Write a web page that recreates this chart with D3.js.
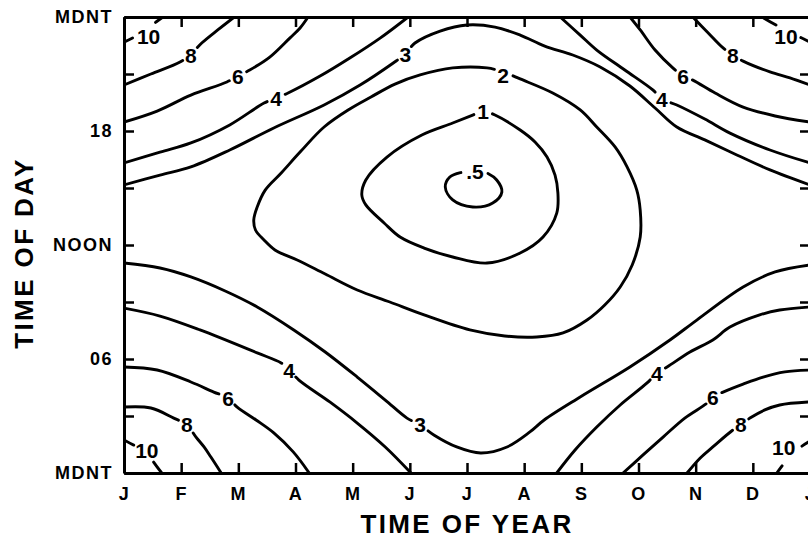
<!DOCTYPE html>
<html><head><meta charset="utf-8">
<script src="https://cdn.jsdelivr.net/npm/d3@7"></script>
<style>
html,body{margin:0;padding:0;background:#fff;overflow:hidden}
svg{display:block}
text{font-family:"Liberation Sans",Arial,sans-serif;font-weight:bold;fill:#000}
</style></head><body>
<svg id="chart" width="808" height="542"></svg>
<script>
// ---------- data (x = month, 0 = Jan 1 ... 12 = next Jan 1; y = hour of day) ----------
const months = ["J","F","M","A","M","J","J","A","S","O","N","D","J"];
const hourTicks = [0,3,6,9,12,15,18,21,24];
const hourLabels = {0:"MDNT",6:"06",12:"NOON",18:"18",24:"MDNT"};

// contour lines: [month, hour]
const c10TopLeft = [[0,22.68],[0.28,23.11],[0.49,23.58],[0.68,24]];
const c8TopLeft  = [[0,20.42],[0.47,21.0],[0.98,21.63],[1.17,22.05],[1.36,22.63],[1.64,23.32],[1.93,24]];
const c6TopLeft  = [[0,18.47],[0.58,19.05],[1.17,19.89],[1.80,20.58],[1.99,20.89],[2.20,21.21],[2.55,21.89],[2.90,22.89],[3.08,23.42],[3.22,24]];
const c4TopLeft  = [[0,16.32],[0.63,16.89],[1.17,17.37],[1.85,18.32],[2.45,19.47],[2.66,19.74],[2.87,20.0],[3.43,20.89],[3.95,21.84],[4.48,22.89],[4.97,24]];
const c3Top      = [[0,15.16],[0.63,15.68],[1.17,16.11],[1.85,17.0],[2.62,18.16],[3.50,19.37],[4.13,20.42],[4.71,21.58],[4.92,22.05],[5.09,22.63],[5.53,23.26],[6.0,23.58],[6.49,23.47],[6.93,23.05],[7.36,22.47],[7.85,22.0],[8.33,21.37],[8.85,20.37],[9.29,19.21],[9.67,18.21],[10.16,17.53],[10.72,16.74],[11.30,15.95],[12,15.16]];
const c2Loop     = [[2.27,13.32],[2.33,14.0],[2.47,14.89],[2.75,15.79],[3.08,16.89],[3.50,18.21],[3.95,19.16],[4.32,19.79],[4.74,20.47],[5.18,20.95],[5.75,21.32],[6.35,21.32],[6.63,21.11],[6.93,20.74],[7.50,20.0],[7.98,19.11],[8.27,18.21],[8.59,17.16],[8.80,16.11],[8.97,14.89],[9.03,13.84],[9.03,12.42],[8.89,10.95],[8.68,9.79],[8.41,8.84],[8.10,8.05],[7.68,7.37],[7.22,7.16],[6.66,7.21],[6.05,7.53],[5.25,8.32],[4.65,9.0],[4.08,9.63],[3.52,10.47],[3.03,11.21],[2.64,11.74],[2.45,12.26],[2.30,12.79]];
const c1Loop     = [[4.16,14.63],[4.23,15.42],[4.60,16.63],[5.21,17.79],[5.75,18.42],[6.10,18.84],[6.28,19.05],[6.49,18.84],[6.93,18.05],[7.19,17.42],[7.40,16.63],[7.54,15.68],[7.59,14.74],[7.57,13.68],[7.33,12.42],[6.93,11.58],[6.35,11.05],[5.75,11.37],[5.25,11.84],[4.83,12.42],[4.55,13.16],[4.23,14.11]];
const c05Loop    = [[5.93,15.84],[5.70,15.58],[5.62,15.05],[5.75,14.37],[6.10,14.0],[6.45,14.21],[6.61,14.79],[6.52,15.42],[6.35,15.79],[6.14,15.95]];
const c4TopRight = [[7.63,24],[7.98,23.05],[8.27,22.26],[8.76,21.21],[9.25,20.16],[9.41,19.68],[9.67,19.37],[10.16,18.63],[10.60,17.89],[11.30,17.0],[12,16.32]];
const c6TopRight = [[8.85,24],[9.03,23.32],[9.29,22.26],[9.60,21.32],[9.78,20.89],[9.95,20.68],[10.34,20.0],[10.83,19.26],[11.39,18.79],[12,18.47]];
const c8TopRight = [[9.95,24],[10.22,23.16],[10.48,22.37],[10.65,22.0],[10.83,21.68],[11.30,21.11],[11.65,20.79],[12,20.42]];
const c10TopRight= [[11.16,24],[11.45,23.5],[11.75,23.05],[12,22.68]];
const c3Low      = [[0,11.05],[0.63,10.79],[1.17,10.32],[1.77,9.58],[2.33,8.74],[2.97,7.53],[3.52,6.37],[4.08,5.05],[4.57,3.84],[4.95,2.89],[5.18,2.53],[5.42,2.0],[5.82,1.37],[6.24,1.05],[6.70,1.37],[7.10,2.16],[7.35,2.79],[7.98,4.0],[8.85,5.58],[9.55,7.0],[10.02,8.05],[10.83,9.79],[11.39,10.58],[12,10.95]];
const c4LowLeft  = [[0,8.68],[0.63,8.26],[1.33,7.53],[2.33,6.32],[2.75,5.79],[2.89,5.42],[3.06,4.89],[3.60,3.74],[4.08,2.63],[4.57,1.37],[5.02,0]];
const c6LowLeft  = [[0,5.58],[0.58,5.42],[1.17,4.79],[1.57,4.26],[1.82,3.95],[1.98,3.47],[2.31,2.79],[2.62,2.11],[2.96,1.11],[3.24,0]];
const c8LowLeft  = [[0,3.47],[0.47,3.42],[0.87,2.89],[1.10,2.53],[1.26,1.89],[1.40,1.37],[1.52,0.84],[1.70,0]];
const c10LowLeft = [[0,1.74],[0.17,1.47],[0.40,1.21],[0.47,0.79],[0.66,0]];
const c4LowRight = [[7.57,0],[7.89,1.21],[8.27,2.42],[8.68,3.58],[9.15,4.74],[9.32,5.26],[9.50,5.58],[9.90,6.37],[10.30,7.0],[10.60,7.68],[11.12,8.32],[11.47,8.58],[12,8.74]];
const c6LowRight = [[8.73,0],[9.08,0.95],[9.43,1.89],[9.81,2.89],[10.20,3.68],[10.30,4.0],[10.48,4.26],[10.83,4.68],[11.18,5.05],[11.56,5.32],[12,5.42]];
const c8LowRight = [[9.85,0],[10.08,0.79],[10.30,1.37],[10.65,2.26],[10.79,2.53],[10.95,2.89],[11.21,3.32],[11.47,3.58],[12,3.74]];
const c10LowRight= [[11.42,0],[11.70,1.05],[12,1.68]];

// label text and position [month, hour]
const contours = [
  {text:"10", pts:c10TopLeft,  closed:false, lab:[0.43,23.0]},
  {text:"8",  pts:c8TopLeft,   closed:false, lab:[1.17,22.0]},
  {text:"6",  pts:c6TopLeft,   closed:false, lab:[1.99,20.89]},
  {text:"4",  pts:c4TopLeft,   closed:false, lab:[2.66,19.74]},
  {text:"3",  pts:c3Top,       closed:false, lab:[4.92,22.05]},
  {text:"2",  pts:c2Loop,      closed:true,  lab:[6.63,20.95]},
  {text:"1",  pts:c1Loop,      closed:true,  lab:[6.28,19.05]},
  {text:".5", pts:c05Loop,     closed:true,  lab:[6.14,15.89]},
  {text:"4",  pts:c4TopRight,  closed:false, lab:[9.41,19.68]},
  {text:"6",  pts:c6TopRight,  closed:false, lab:[9.78,20.89]},
  {text:"8",  pts:c8TopRight,  closed:false, lab:[10.65,22.0]},
  {text:"10", pts:c10TopRight, closed:false, lab:[11.58,23.0]},
  {text:"3",  pts:c3Low,       closed:false, lab:[5.18,2.53]},
  {text:"4",  pts:c4LowLeft,   closed:false, lab:[2.89,5.42]},
  {text:"6",  pts:c6LowLeft,   closed:false, lab:[1.82,3.95]},
  {text:"8",  pts:c8LowLeft,   closed:false, lab:[1.10,2.53]},
  {text:"10", pts:c10LowLeft,  closed:false, lab:[0.40,1.21]},
  {text:"4",  pts:c4LowRight,  closed:false, lab:[9.32,5.26]},
  {text:"6",  pts:c6LowRight,  closed:false, lab:[10.30,4.0]},
  {text:"8",  pts:c8LowRight,  closed:false, lab:[10.79,2.53]},
  {text:"10", pts:c10LowRight, closed:false, lab:[11.54,1.32]}
];

// ---------- drawing ----------
const svg = d3.select("#chart");
const L = 124, T = 17, R = 810, B = 473;
const x = d3.scaleLinear().domain([0,12]).range([L,R]);
const y = d3.scaleLinear().domain([0,24]).range([B,T]);

svg.append("defs").append("clipPath").attr("id","plotclip")
  .append("rect").attr("x",L).attr("y",T).attr("width",R-L).attr("height",B-T);

const lineOpen = d3.line().x(d=>x(d[0])).y(d=>y(d[1])).curve(d3.curveCatmullRom.alpha(0.5));
const lineClosed = d3.line().x(d=>x(d[0])).y(d=>y(d[1])).curve(d3.curveCatmullRomClosed.alpha(0.5));

const gC = svg.append("g").attr("clip-path","url(#plotclip)");
contours.forEach(c => {
  const p = gC.append("path")
    .attr("d", (c.closed ? lineClosed : lineOpen)(c.pts))
    .attr("fill","none").attr("stroke","#000").attr("stroke-width",2.9)
    .attr("stroke-linejoin","round").attr("stroke-linecap","round");
  const node = p.node(), len = node.getTotalLength();
  const lx = x(c.lab[0]), ly = y(c.lab[1]);
  let best = 0, bd = 1e12;
  for (let s = 0; s <= len; s += 0.5) {
    const q = node.getPointAtLength(s);
    const d = (q.x-lx)**2 + (q.y-ly)**2;
    if (d < bd) { bd = d; best = s; }
  }
  const gap = c.text.length > 1 ? 14 : 10;
  p.attr("stroke-dasharray", `${Math.max(0,best-gap)} ${2*gap} ${len+10}`);
  svg.append("text").attr("x",lx).attr("y",ly).attr("dy","0.36em")
    .attr("text-anchor","middle").style("font-size","21px").text(c.text);
});

// axes
function styleAxis(g){
  g.attr("font-family",null).attr("font-size",null);
  g.select(".domain").attr("stroke","#000").attr("stroke-width",3);
  g.selectAll(".tick line").attr("stroke","#000").attr("stroke-width",2.5);
  g.selectAll(".tick text").style("font-size","18px").style("letter-spacing","1.5px");
}
svg.append("g").attr("transform",`translate(0,${B})`)
  .call(d3.axisBottom(x).tickValues(d3.range(13)).tickFormat(i=>months[i])
        .tickSizeInner(-10).tickSizeOuter(0).tickPadding(14)).call(styleAxis);
svg.append("g").attr("transform",`translate(0,${T})`)
  .call(d3.axisTop(x).tickValues(d3.range(13)).tickFormat("")
        .tickSizeInner(-10).tickSizeOuter(0)).call(styleAxis);
svg.append("g").attr("transform",`translate(${L},0)`)
  .call(d3.axisLeft(y).tickValues(hourTicks).tickFormat(h=>hourLabels[h]||"")
        .tickSizeInner(-10).tickSizeOuter(0).tickPadding(11)).call(styleAxis);
svg.append("g").attr("transform",`translate(${R},0)`)
  .call(d3.axisRight(y).tickValues(hourTicks).tickFormat("")
        .tickSizeInner(-10).tickSizeOuter(0)).call(styleAxis);

// titles
svg.append("text").attr("x",(L+R)/2).attr("y",533).attr("text-anchor","middle")
  .style("font-size","26px").style("letter-spacing","2.4px").text("TIME OF YEAR");
svg.append("text").attr("transform","translate(33,253) rotate(-90)").attr("text-anchor","middle")
  .style("font-size","26px").style("letter-spacing","2.4px").text("TIME OF DAY");
</script>
</body></html>
